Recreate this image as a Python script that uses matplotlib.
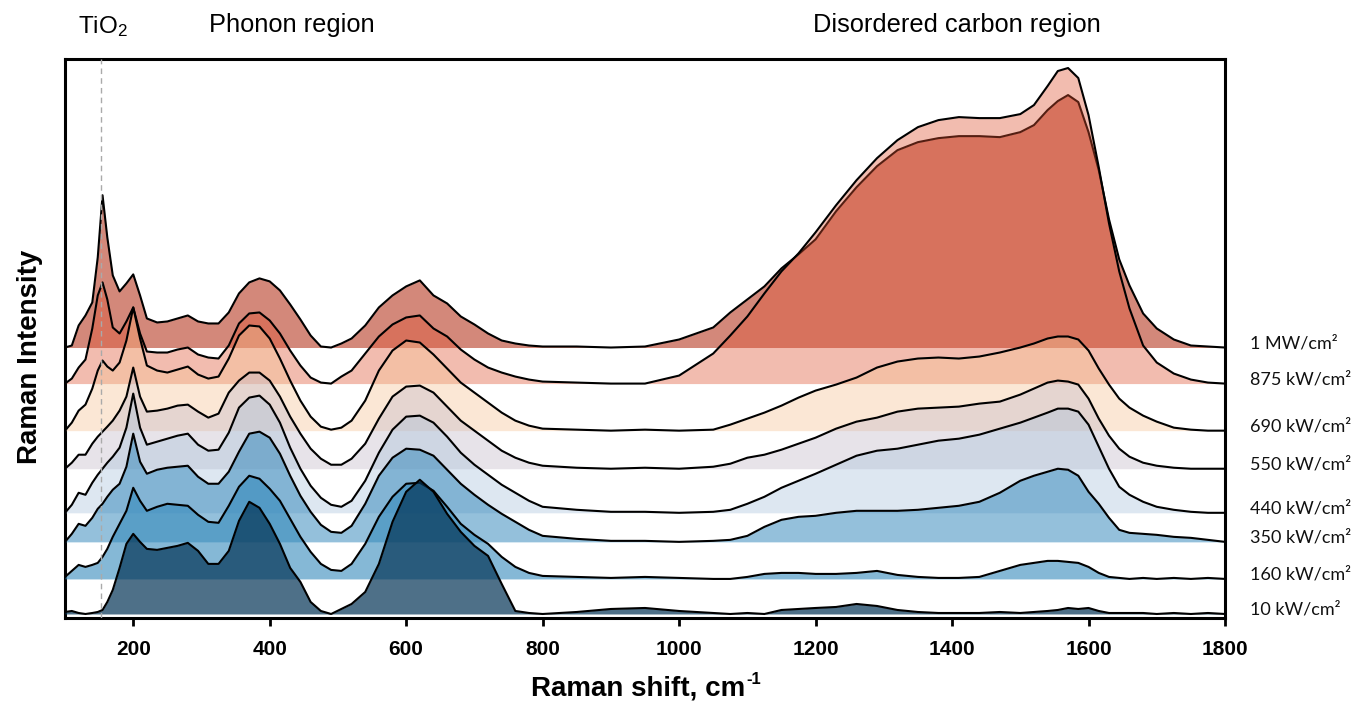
import matplotlib
matplotlib.use("Agg")
import matplotlib.pyplot as plt
import matplotlib.transforms as mtransforms
import numpy as np

plt.rcParams['font.family'] = ['Liberation Sans', 'DejaVu Sans']
plt.rcParams['mathtext.fontset'] = 'custom'
plt.rcParams['mathtext.rm'] = 'Liberation Sans'
plt.rcParams['mathtext.it'] = 'Liberation Sans:italic'
plt.rcParams['mathtext.bf'] = 'Liberation Sans:bold'

# ---------------- data ----------------
wavenumber = [100, 110, 120, 130, 140, 148, 155, 162, 170, 180,
              190, 200, 210, 220, 235, 250, 265, 280, 295, 310,
              325, 340, 355, 370, 385, 400, 415, 430, 445, 460,
              475, 490, 505, 520, 540, 560, 580, 600, 620, 640,
              660, 680, 700, 720, 740, 760, 780, 800,
              850, 900, 950, 1000, 1050, 1075, 1100, 1125, 1150, 1175,
              1200, 1230, 1260, 1290, 1320, 1350, 1380, 1410, 1440, 1470,
              1500, 1520, 1540, 1555, 1570, 1585, 1600, 1615, 1630, 1645,
              1660, 1680, 1700, 1725, 1750, 1775, 1800]

int_1MW = [0, 2, 22, 32, 45, 90, 152, 110, 72, 56,
           64, 73, 52, 29, 25, 26, 29, 32, 26, 24,
           24, 35, 54, 65, 69, 66, 57, 43, 28, 12,
           1, 0, 4, 9, 22, 40, 52, 61, 67, 52,
           44, 31, 23, 14, 7, 4, 2, 1,
           1, 0, 1, 8, 20, 35, 48, 61, 79, 93,
           108, 136, 160, 181, 197, 205, 209, 211, 211, 210,
           215, 222, 237, 246, 252, 245, 215, 177, 128, 88,
           62, 34, 19, 8, 2, 1, 0]

int_875kW = [0, 5, 16, 24, 55, 88, 101, 84, 56, 50,
             62, 76, 50, 32, 31, 31, 34, 36, 29, 26,
             25, 38, 60, 70, 71, 63, 50, 33, 18, 6,
             1, 0, 7, 13, 30, 47, 59, 66, 68, 55,
             47, 34, 24, 16, 11, 7, 4, 2,
             1, 0, 0, 8, 30, 48, 67, 90, 112, 130,
             151, 178, 203, 225, 243, 256, 263, 266, 265, 265,
             269, 278, 297, 312, 315, 305, 268, 216, 160, 112,
             75, 38, 21, 10, 4, 1, 0]

int_690kW = [0, 8, 20, 26, 42, 60, 70, 64, 60, 68,
             90, 123, 92, 65, 60, 58, 61, 64, 56, 52,
             54, 72, 95, 105, 104, 92, 72, 50, 30, 14,
             4, 1, 3, 10, 30, 60, 80, 90, 88, 76,
             62, 48, 38, 28, 18, 10, 5, 2,
             1, 0, 1, 0, 1, 6, 12, 18, 25, 33,
             40, 46, 53, 63, 69, 72, 73, 72, 74, 78,
             83, 87, 92, 94, 94, 91, 80, 62, 46, 32,
             23, 15, 9, 3, 1, 0, 0]

int_550kW = [0, 6, 14, 14, 25, 32, 37, 42, 48, 58,
             72, 101, 72, 57, 58, 60, 63, 64, 57, 51,
             55, 76, 88, 96, 96, 88, 72, 52, 35, 20,
             10, 4, 4, 10, 25, 50, 72, 82, 83, 76,
             62, 48, 38, 28, 18, 11, 6, 3,
             1, 0, 1, 0, 2, 5, 11, 14, 19, 25,
             31, 40, 47, 51, 57, 60, 61, 62, 65, 67,
             74, 80, 86, 88, 87, 84, 70, 50, 33, 20,
             12, 6, 3, 1, 0, 0, 0]

int_440kW = [0, 8, 20, 18, 30, 38, 44, 50, 56, 65,
             85, 119, 85, 68, 71, 74, 77, 79, 68, 62,
             63, 80, 105, 115, 117, 108, 90, 65, 44, 27,
             15, 8, 6, 12, 32, 60, 83, 96, 97, 90,
             76, 60, 48, 38, 28, 20, 12, 6,
             3, 1, 1, 0, 1, 3, 9, 16, 25, 32,
             39, 48, 57, 62, 64, 68, 72, 74, 78, 84,
             90, 95, 100, 104, 104, 101, 88, 66, 44, 26,
             18, 11, 6, 3, 1, 0, 0]

int_350kW = [0, 8, 18, 16, 24, 33, 38, 45, 52, 58,
             75, 108, 80, 68, 72, 74, 75, 76, 65, 58,
             58, 70, 90, 108, 110, 104, 88, 66, 46, 30,
             17, 10, 9, 16, 38, 66, 84, 93, 92, 86,
             72, 58, 47, 37, 28, 20, 12, 6,
             3, 1, 1, 0, 1, 2, 6, 15, 22, 25,
             26, 29, 31, 31, 31, 32, 34, 36, 40, 49,
             61, 66, 70, 73, 72, 66, 50, 38, 24, 12,
             9, 8, 7, 5, 4, 2, 0]

int_160kW = [2, 8, 14, 12, 14, 16, 22, 30, 42, 55,
             68, 91, 78, 68, 72, 75, 74, 73, 64, 57,
             56, 73, 92, 103, 100, 90, 78, 60, 42, 27,
             15, 9, 8, 15, 35, 62, 82, 95, 96, 88,
             72, 55, 44, 35, 22, 12, 6, 3,
             2, 1, 2, 1, 0, 0, 2, 5, 6, 6,
             5, 5, 6, 8, 4, 2, 1, 1, 2, 8,
             14, 16, 18, 18, 17, 16, 12, 6, 2, 1,
             0, 1, 0, 1, 0, 1, 0]

int_10kW = [2, 3, 1, 0, 1, 2, 4, 12, 24, 46,
            70, 80, 72, 65, 64, 66, 68, 71, 63, 50,
            50, 63, 93, 112, 106, 90, 70, 46, 32, 12,
            3, 0, 5, 10, 22, 50, 92, 122, 134, 122,
            100, 82, 68, 58, 30, 3, 1, 0,
            2, 5, 6, 3, 1, 0, 1, 0, 4, 5,
            6, 7, 10, 8, 4, 2, 1, 1, 1, 2,
            1, 2, 3, 4, 6, 5, 6, 3, 1, 1,
            1, 1, 0, 1, 0, 1, 0]

labels = ["1 MW/cm²", "875 kW/cm²", "690 kW/cm²", "550 kW/cm²",
          "440 kW/cm²", "350 kW/cm²", "160 kW/cm²", "10 kW/cm²"]
spectra = [int_1MW, int_875kW, int_690kW, int_550kW,
           int_440kW, int_350kW, int_160kW, int_10kW]
offsets = [266, 230, 183, 145, 101, 72, 35, 0]

# ---------------- style ----------------
fill_colors = ["#b73921", "#df4f2f", "#f5c598", "#c5bbca",
               "#aac3dc", "#2b83b9", "#3489bb", "#033456"]
fill_alpha = [0.6, 0.38, 0.4, 0.4, 0.4, 0.5, 0.6, 0.7]

fig = plt.figure(figsize=(13.52, 7.02), dpi=100)
ax = fig.add_axes([65 / 1352, 1 - 618 / 702, 1160 / 1352, (618 - 59) / 702])

x = np.array(wavenumber, dtype=float)
trans = mtransforms.blended_transform_factory(ax.transAxes, ax.transData)
for k, (lab, vals, off) in enumerate(zip(labels, spectra, offsets)):
    y = np.array(vals, dtype=float) + off
    ax.fill_between(x, off, y, color=fill_colors[k], alpha=fill_alpha[k],
                    lw=0, zorder=2 + k)
    ax.plot(x, y, color="black", lw=1.5, zorder=2 + k, solid_joinstyle="round")
    ax.text(1.0216, off + 4, lab, transform=trans, ha="left", va="center",
            fontsize=13, family=["Lato", "DejaVu Sans"], color="#111111",
            clip_on=False)

ax.axvline(153, color="#aaaaaa", lw=1.0, ls=(0, (4, 3)), zorder=20)

ax.set_xlim(100, 1800)
ax.set_ylim(-4, 554)
ax.set_xticks(range(200, 1801, 200))
ax.set_yticks([])
ax.tick_params(axis="x", direction="out", length=6, width=2, pad=10,
               labelsize=15)
for lbl in ax.get_xticklabels():
    lbl.set_fontweight("bold")
for sp in ax.spines.values():
    sp.set_linewidth(2.2)

fig.text(745 / 1352, 1 - 688 / 702, "Raman shift, cm",
         ha="right", va="center", fontsize=20, fontweight="bold")
fig.text(746 / 1352, 1 - 679 / 702, "-1",
         ha="left", va="center", fontsize=12, fontweight="bold")
fig.text(30 / 1352, 1 - 357 / 702, "Raman Intensity", rotation=90,
         ha="center", va="center", fontsize=20, fontweight="bold")

fig.text(103 / 1352, 1 - 27 / 702, r"TiO$_2$", ha="center", va="center",
         fontsize=17.5)
fig.text(292 / 1352, 1 - 25 / 702, "Phonon region", ha="center", va="center",
         fontsize=18.3)
fig.text(957 / 1352, 1 - 25 / 702, "Disordered carbon region", ha="center",
         va="center", fontsize=18.3)

fig.savefig("out.png", dpi=100)
